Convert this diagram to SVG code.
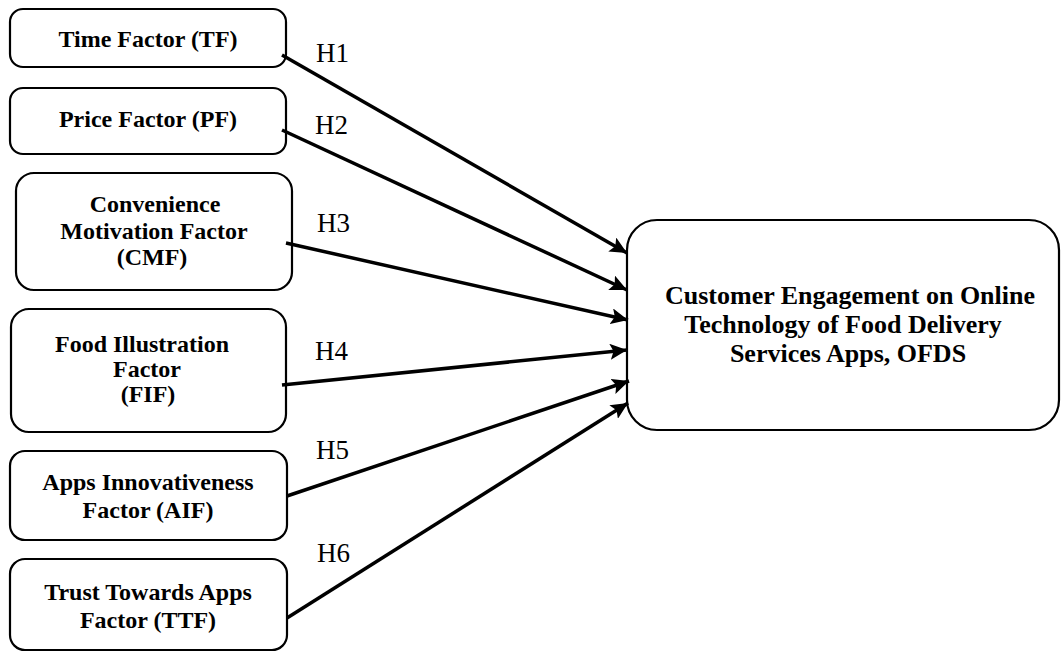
<svg xmlns="http://www.w3.org/2000/svg" width="1062" height="653" viewBox="0 0 1062 653">
  <style>
    .box { fill: #ffffff; stroke: #000000; stroke-width: 2.2; }
    .lbl { font-family: "Liberation Serif", "Times New Roman", serif; font-weight: bold; font-size: 24px; fill: #000000; text-anchor: middle; }
    .big { font-size: 26px; }
    .hyp { font-family: "Liberation Serif", "Times New Roman", serif; font-size: 27px; fill: #000000; }
    .edge { stroke: #000000; stroke-width: 3.5; fill: none; marker-end: url(#arrow); }
  </style>
  <defs>
    <marker id="arrow" markerUnits="userSpaceOnUse" markerWidth="18" markerHeight="16" refX="17" refY="8" orient="auto">
      <path d="M0,0 L17,8 L0,16 L3.5,8 Z" fill="#000000"/>
    </marker>
  </defs>
  <rect width="1062" height="653" fill="#ffffff"/>

  <!-- predictor constructs -->
  <g id="node-tf">
    <rect class="box" x="10" y="9" width="276" height="58" rx="13"/>
    <text class="lbl" x="148" y="47">Time Factor (TF)</text>
  </g>
  <g id="node-pf">
    <rect class="box" x="10" y="88" width="276" height="66" rx="13"/>
    <text class="lbl" x="148" y="127">Price Factor (PF)</text>
  </g>
  <g id="node-cmf">
    <rect class="box" x="16" y="173" width="276" height="117" rx="18"/>
    <text class="lbl" x="155" y="212">Convenience</text>
    <text class="lbl" x="154" y="239">Motivation Factor</text>
    <text class="lbl" x="152" y="265">(CMF)</text>
  </g>
  <g id="node-fif">
    <rect class="box" x="11" y="309" width="275" height="123" rx="18"/>
    <text class="lbl" x="142" y="352">Food Illustration</text>
    <text class="lbl" x="147" y="377">Factor</text>
    <text class="lbl" x="148" y="402">(FIF)</text>
  </g>
  <g id="node-aif">
    <rect class="box" x="10" y="451" width="277" height="89" rx="15"/>
    <text class="lbl" x="148" y="490">Apps Innovativeness</text>
    <text class="lbl" x="148" y="518">Factor (AIF)</text>
  </g>
  <g id="node-ttf">
    <rect class="box" x="10" y="559" width="277" height="91" rx="15"/>
    <text class="lbl" x="148" y="600">Trust Towards Apps</text>
    <text class="lbl" x="148" y="628">Factor (TTF)</text>
  </g>

  <!-- outcome construct -->
  <g id="node-ofds">
    <rect class="box" x="627" y="220" width="432" height="210" rx="30"/>
    <text class="lbl big" x="850" y="304">Customer Engagement on Online</text>
    <text class="lbl big" x="843" y="333">Technology of Food Delivery</text>
    <text class="lbl big" x="848" y="362">Services Apps, OFDS</text>
  </g>

  <!-- hypothesised paths -->
  <g id="connectors">
    <line class="edge" x1="282" y1="55" x2="627" y2="253"/>
    <line class="edge" x1="282" y1="130" x2="627" y2="290"/>
    <line class="edge" x1="286" y1="243" x2="628" y2="320"/>
    <line class="edge" x1="282" y1="385" x2="627" y2="350"/>
    <line class="edge" x1="287" y1="496" x2="629" y2="381"/>
    <line class="edge" x1="287" y1="618" x2="628" y2="403"/>
    <text class="hyp" x="316" y="62">H1</text>
    <text class="hyp" x="315" y="134">H2</text>
    <text class="hyp" x="317" y="232">H3</text>
    <text class="hyp" x="315" y="360">H4</text>
    <text class="hyp" x="316" y="459">H5</text>
    <text class="hyp" x="317" y="562">H6</text>
  </g>
</svg>
